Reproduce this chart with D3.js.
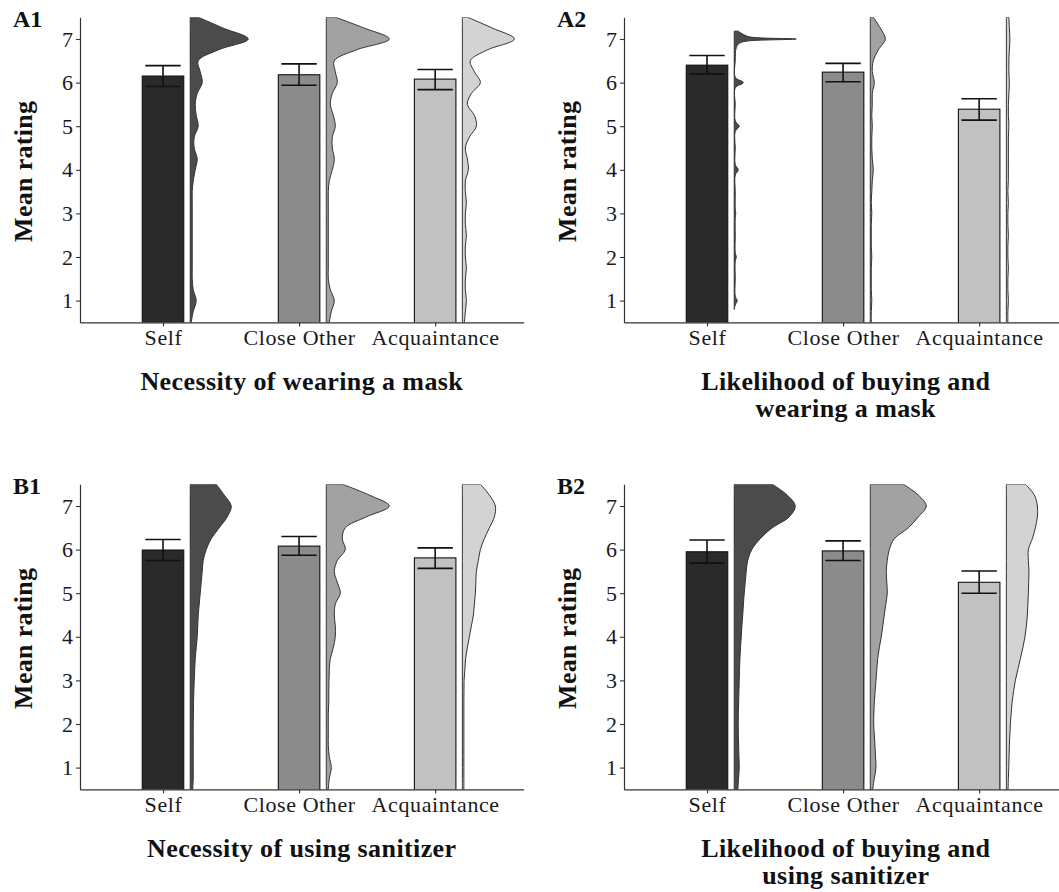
<!DOCTYPE html>
<html>
<head>
<meta charset="utf-8">
<script src="https://cdn.jsdelivr.net/npm/d3@7"></script>
<style>
  html, body { margin: 0; padding: 0; background: #fff; }
  svg { display: block; }
</style>
</head>
<body>
<script>
// ---------------- data ----------------
const categories = ["Self", "Close Other", "Acquaintance"];
const panelIds = ["A1", "A2", "B1", "B2"];
const panelTitles = [
  ["Necessity of wearing a mask"],
  ["Likelihood of buying and", "wearing a mask"],
  ["Necessity of using sanitizer"],
  ["Likelihood of buying and", "using sanitizer"]
];
const yTicks = [1, 2, 3, 4, 5, 6, 7];

const meansA1 = [6.15, 6.18, 6.08];
const lowA1 = [5.91, 5.94, 5.84];
const highA1 = [6.39, 6.43, 6.30];

const meansA2 = [6.40, 6.24, 5.39];
const lowA2 = [6.20, 6.02, 5.14];
const highA2 = [6.62, 6.44, 5.63];

const meansB1 = [5.99, 6.08, 5.81];
const lowB1 = [5.75, 5.87, 5.57];
const highB1 = [6.23, 6.30, 6.04];

const meansB2 = [5.95, 5.97, 5.25];
const lowB2 = [5.69, 5.75, 5.00];
const highB2 = [6.22, 6.20, 5.51];

// rating grid for the density curves
const densityGrid = [0.5,0.75,1,1.25,1.5,1.75,2,2.25,2.5,2.75,3,3.25,3.5,3.75,4,4.25,4.5,4.75,5,5.25,5.5,5.75,6,6.25,6.5,6.75,7,7.25,7.5];

// relative density
const densA1Self = [1,3,6,3,2,2,2,2,2,2,2,2,2,3,5,7,4,4,8,6,5,7,12,10,8,28,58,33,8];
const densA1Close = [3,5,8,4,2,2,2,2,2,2,2,2,2,3,6,8,6,6,9,7,4,6,11,9,8,30,63,38,9];
const densA1Acq = [2,3,4,3,3,4,3,3,4,3,3,4,3,3,6,5,3,7,14,12,5,9,18,12,8,25,52,30,5];

const gridA2Self = [0.8,0.9,1.0,1.1,1.5,1.9,2.0,2.1,2.5,2.9,3.0,3.1,3.5,3.88,4.0,4.12,4.5,4.88,5.0,5.12,5.5,5.88,6.0,6.12,6.5,6.8,6.9,6.95,7.0,7.05,7.12,7.18];
const densA2Self = [0,1,3,1,1,1,2,1,1,1,1.5,1,1,1,4,1,1,1,5,1,1,1,9,1,1,2,5,12,62,15,8,4];
const densA2Close = [1,1,1.5,1,1,1,1.5,1,1,1,1.5,1,1.5,2,3,2,1.5,1.5,2,1.5,2,2,4,2,3,8,15,10,3];
const densA2Acq = [1.5,1.5,2,1.5,1.5,2,1.5,1.5,2,1.5,1.5,2,1.5,2,2,2,2,2,2.5,2,2,2.5,3,2.5,2.5,3,3.5,3,2.5];

const densB1Self = [2.5,3,3,3,3,3,3,3.2,3.3,3.6,4,4.5,5,6,7,7.5,8,9,10,11,12,13,16,21,29,37,41,34,26];
const densB1Close = [2,3,5,3,2,2,2,2,2.5,2.5,2.7,3,4,7,9,9,8,9,14,11,8,11,19,16,19,40,63,43,16];
const densB1Acq = [1.5,1.5,1.5,1.5,1.5,1.5,1.5,1.5,1.5,1.6,1.7,2.5,3.3,5,7,9,11,12,13,13.5,14,16,18,22,27,32,33,27,18];

const densB2Self = [3.7,4.3,5,4.7,4.4,4.1,4,4.1,4.4,4.7,5,5.3,5.7,6.3,7,7.7,8.5,9.2,10,11,12,13.5,17.6,26,38,55,61,53,38];
const densB2Close = [2.4,4,5.7,5.2,4.7,4,3.4,3.6,4,4.8,5.7,6.5,7.4,9,11,12.5,14,15.5,17,16.5,16,17,19,24,38,48,56,48,33];
const densB2Acq = [1.7,2,2.4,2.7,3,3.5,4,4.8,5.7,7.2,9,11.5,14,16.5,18.6,20,21,21.5,22,22.3,22.6,22,22,26,29,31,31,28,19];

// ---------------- assembly ----------------
const panels = [
  { id: panelIds[0], title: panelTitles[0], means: meansA1, low: lowA1, high: highA1,
    dens: [[densityGrid, densA1Self], [densityGrid, densA1Close], [densityGrid, densA1Acq]] },
  { id: panelIds[1], title: panelTitles[1], means: meansA2, low: lowA2, high: highA2,
    dens: [[gridA2Self, densA2Self], [densityGrid, densA2Close], [densityGrid, densA2Acq]] },
  { id: panelIds[2], title: panelTitles[2], means: meansB1, low: lowB1, high: highB1,
    dens: [[densityGrid, densB1Self], [densityGrid, densB1Close], [densityGrid, densB1Acq]] },
  { id: panelIds[3], title: panelTitles[3], means: meansB2, low: lowB2, high: highB2,
    dens: [[densityGrid, densB2Self], [densityGrid, densB2Close], [densityGrid, densB2Acq]] }
];

const barFill = ["#2a2a2a", "#8b8b8b", "#c1c1c1"];
const violinFill = ["#4b4b4b", "#a2a2a2", "#d3d3d3"];
const serif = "'Liberation Serif', 'Times New Roman', serif";

const W = 1059, H = 892;
const svg = d3.select("body").append("svg").attr("width", W).attr("height", H)
  .attr("viewBox", `0 0 ${W} ${H}`);

const colOffset = [0, 544];
const rowOffset = [0, 467];

const wScale = d3.scaleLinear().domain([0, 60]).range([0, 60]);

panels.forEach((p, k) => {
  const dx = colOffset[k % 2];
  const dy = rowOffset[Math.floor(k / 2)];
  const g = svg.append("g");

  const xs = d3.scaleLinear().domain([0.39, 3.65]).range([80 + dx, 523.6 + dx]);
  const ys = d3.scaleLinear().domain([0.5, 7.5]).range([322.4 + dy, 17.2 + dy]);

  const clipId = "clip" + k;
  svg.append("clipPath").attr("id", clipId).append("rect")
    .attr("x", xs.range()[0]).attr("y", ys.range()[1])
    .attr("width", xs.range()[1] - xs.range()[0] + 30)
    .attr("height", ys.range()[0] - ys.range()[1]);

  const plot = g.append("g").attr("clip-path", `url(#${clipId})`);

  // bars
  const barHalf = 0.1525;
  plot.selectAll("rect.bar").data(p.means).join("rect")
    .attr("class", "bar")
    .attr("x", (d, i) => xs(i + 1 - barHalf))
    .attr("width", (d, i) => xs(i + 1 + barHalf) - xs(i + 1 - barHalf))
    .attr("y", d => ys(d))
    .attr("height", d => ys(0.5) - ys(d) + 2)
    .attr("fill", (d, i) => barFill[i])
    .attr("stroke", "#111")
    .attr("stroke-width", 1.1);

  // half violins
  p.dens.forEach(([grid, vals], i) => {
    const base = xs(i + 1 + 0.2);
    const pts = grid.map((r, j) => ({ r, v: vals[j] }));
    const area = d3.area()
      .y(d => ys(d.r))
      .x0(base)
      .x1(d => base + wScale(d.v))
      .curve(d3.curveCatmullRom.alpha(0.5));
    plot.append("path")
      .attr("d", area(pts))
      .attr("fill", violinFill[i])
      .attr("stroke", "#333")
      .attr("stroke-width", 1);
  });

  // error bars
  const capHalf = 0.13;
  p.means.forEach((m, i) => {
    const eg = plot.append("g").attr("stroke", "#111").attr("stroke-width", 1.6).attr("fill", "none");
    eg.append("line").attr("x1", xs(i + 1)).attr("x2", xs(i + 1))
      .attr("y1", ys(p.low[i])).attr("y2", ys(p.high[i]));
    eg.append("line").attr("x1", xs(i + 1 - capHalf)).attr("x2", xs(i + 1 + capHalf))
      .attr("y1", ys(p.low[i])).attr("y2", ys(p.low[i]));
    eg.append("line").attr("x1", xs(i + 1 - capHalf)).attr("x2", xs(i + 1 + capHalf))
      .attr("y1", ys(p.high[i])).attr("y2", ys(p.high[i]));
  });

  // axes
  const yAxis = g.append("g").attr("transform", `translate(${xs.range()[0]},0)`)
    .call(d3.axisLeft(ys).tickValues(yTicks).tickFormat(d3.format("d"))
      .tickSize(4).tickPadding(3).tickSizeOuter(0));
  const xAxis = g.append("g").attr("transform", `translate(0,${ys.range()[0]})`)
    .call(d3.axisBottom(xs).tickValues([1, 2, 3]).tickFormat(v => categories[v - 1])
      .tickSize(4).tickPadding(3).tickSizeOuter(0));
  [yAxis, xAxis].forEach(ax => {
    ax.attr("font-family", serif).attr("font-size", 22);
    ax.select(".domain").attr("stroke", "#333").attr("stroke-width", 1.2);
    ax.selectAll(".tick line").attr("stroke", "#333").attr("stroke-width", 1.1);
    ax.selectAll(".tick text").attr("fill", "#1a1a1a");
  });
  xAxis.selectAll(".tick text").attr("letter-spacing", 0.6);

  // y title
  const cy = (ys.range()[0] + ys.range()[1]) / 2 + 1.5;
  g.append("text")
    .attr("transform", `translate(${32 + dx},${cy}) rotate(-90)`)
    .attr("text-anchor", "middle")
    .attr("font-family", serif).attr("font-weight", "bold").attr("font-size", 26)
    .attr("letter-spacing", 0.3)
    .attr("fill", "#111")
    .text("Mean rating");

  // panel label
  g.append("text")
    .attr("x", 13 + dx).attr("y", 27 + dy)
    .attr("font-family", serif).attr("font-weight", "bold").attr("font-size", 24)
    .attr("fill", "#111")
    .text(p.id);

  // x title
  const tx = (xs.range()[0] + xs.range()[1]) / 2;
  p.title.forEach((line, li) => {
    g.append("text")
      .attr("x", tx).attr("y", 390 + dy + li * 27)
      .attr("text-anchor", "middle")
      .attr("font-family", serif).attr("font-weight", "bold").attr("font-size", 26)
      .attr("letter-spacing", 0.4)
      .attr("fill", "#111")
      .text(line);
  });
});
</script>
</body>
</html>
